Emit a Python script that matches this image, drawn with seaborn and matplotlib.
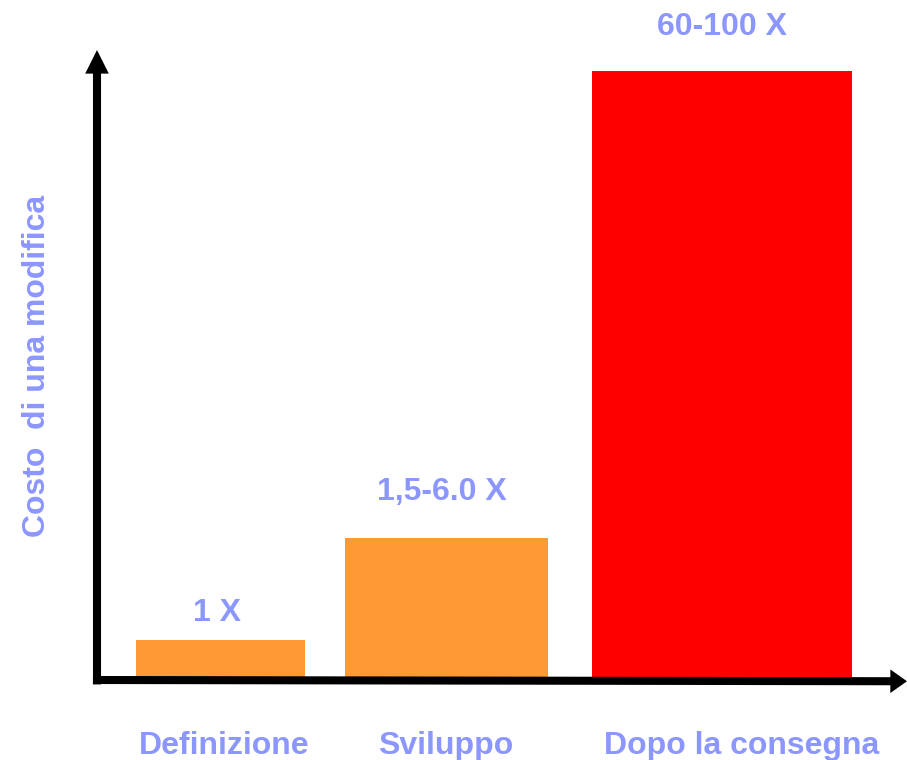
import matplotlib
matplotlib.use("Agg")
import matplotlib.pyplot as plt
import seaborn as sns
import pandas as pd

# ---- data ----
categories = ["Definizione", "Sviluppo", "Dopo la consegna"]
values = [1.08, 3.83, 16.43]          # relative height of the cost of a change
value_labels = ["1 X", "1,5-6.0 X", "60-100 X"]
y_label = "Costo  di una modifica"

# ---- styles / layout ----
bar_colors = ["#FF9933", "#FF9933", "#FF0000"]
bar_centers = [0.0, 1.0, 2.219]
bar_widths = [0.748, 0.898, 1.150]
cat_label_x = [0.018, 0.995, 2.306]
value_label_dx = [-3.5, -4.5, 0.5]     # pixels
value_label_dy = [19, 38, 36]          # pixels above bar top
text_color = "#8C96FF"
fs = 23

sns.set_theme(style="white")
plt.rcParams["font.family"] = ["Liberation Sans", "DejaVu Sans"]

W, H = 907, 760
fig = plt.figure(figsize=(W / 100, H / 100), dpi=100)
ax = fig.add_axes([97 / W, 80 / H, 810 / W, 630 / H])

df = pd.DataFrame({"fase": categories, "costo": values})
sns.barplot(data=df, x="fase", y="costo", hue="fase", palette=bar_colors,
            saturation=1, legend=False, ax=ax, zorder=1)

for p, c, w in zip(ax.patches, bar_centers, bar_widths):
    p.set_x(c - w / 2)
    p.set_width(w)
    p.set_edgecolor("none")

ax.set_xlim(-0.546, 3.038)
ax.set_ylim(0, 17)
for s in ax.spines.values():
    s.set_visible(False)
ax.set_xticks([])
ax.set_yticks([])
ax.set_xlabel("")
ax.set_ylabel("")

# axis arrows
ax.annotate("", xy=(0, 1), xytext=(0, -0.007), xycoords="axes fraction",
            textcoords="axes fraction",
            arrowprops=dict(facecolor="black", edgecolor="none", width=5.8,
                            headwidth=17, headlength=17, shrink=0),
            annotation_clip=False, zorder=3)
ax.annotate("", xy=(1.0, -0.002), xytext=(-0.005, 0.0), xycoords="axes fraction",
            textcoords="axes fraction",
            arrowprops=dict(facecolor="black", edgecolor="none", width=5.8,
                            headwidth=17, headlength=12, shrink=0),
            annotation_clip=False, zorder=3)

# value labels above bars
for c, v, lab, dx, dy in zip(bar_centers, values, value_labels, value_label_dx, value_label_dy):
    ax.annotate(lab, xy=(c, v), xytext=(dx, dy), textcoords="offset pixels",
                ha="center", va="baseline", fontsize=fs, fontweight="bold",
                color=text_color, annotation_clip=False)

# category labels
trans = ax.get_xaxis_transform()
for x, lab in zip(cat_label_x, categories):
    ax.text(x, -74 / 630, lab, transform=trans, ha="center", va="baseline",
            fontsize=fs, fontweight="bold", color=text_color, clip_on=False)

# y label
fig.text(45 / W, (H - 366) / H, y_label, rotation=90, rotation_mode="anchor",
         ha="center", va="baseline", fontsize=fs, fontweight="bold",
         color=text_color)

fig.savefig("out.png", dpi=100)
